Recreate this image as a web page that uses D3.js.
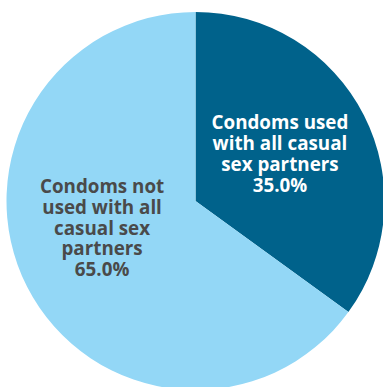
<!DOCTYPE html>
<html><head><meta charset="utf-8">
<script src="https://cdn.jsdelivr.net/npm/d3@7"></script>
<style>html,body{margin:0;padding:0;background:#fff;overflow:hidden}</style>
</head><body>
<svg id="c" width="383" height="387"></svg>
<script>
const categories = ["Condoms used with all casual sex partners", "Condoms not used with all casual sex partners"];
const values = [35.0, 65.0];
const labelLines = [["Condoms used", "with all casual", "sex partners"], ["Condoms not", "used with all", "casual sex", "partners"]];
const colors = ["#00628b", "#93d7f6"];
const textColors = ["#ffffff", "#4a4a4a"];

const svg = d3.select("#c");
const cx = 195.5, cy = 201, r = 189;
const g = svg.append("g").attr("transform", `translate(${cx},${cy})`);
const pie = d3.pie().sort(null).value(d => d)(values);
const arc = d3.arc().innerRadius(0).outerRadius(r);
g.selectAll("path").data(pie).join("path").attr("d", arc).attr("fill", (d, i) => colors[i]);

const labelArc = d3.arc().innerRadius(97).outerRadius(97);
const nudges = [[-2, -3], [-7, -17]];
const lh = 20.8;
pie.forEach((d, i) => {
  const [x, y] = labelArc.centroid(d);
  const lines = labelLines[i].concat([values[i].toFixed(1) + "%"]);
  const t = g.append("text")
    .attr("text-anchor", "middle")
    .attr("font-family", "Open Sans, sans-serif")
    .attr("font-weight", "bold")
    .attr("font-size", "18.8px")
    .attr("fill", textColors[i]);
  const x0 = x + nudges[i][0], y0 = y + nudges[i][1] - (lines.length - 1) * lh / 2;
  lines.forEach((l, j) => {
    t.append("tspan").attr("x", x0).attr("y", y0 + j * lh).attr("dy", "0.35em").text(l);
  });
});
</script>
</body></html>
